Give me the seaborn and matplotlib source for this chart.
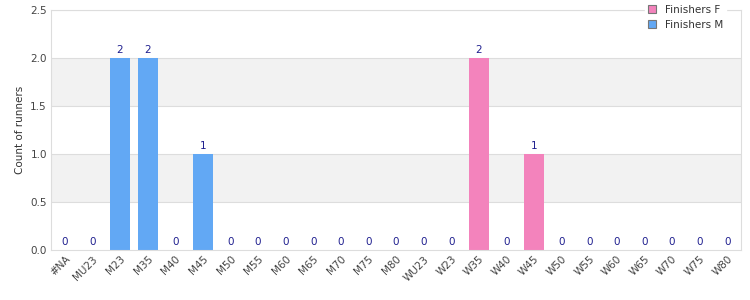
import matplotlib
matplotlib.use("Agg")
import matplotlib.pyplot as plt
import seaborn as sns
import pandas as pd
from matplotlib.patches import Patch

categories = ["#NA", "MU23", "M23", "M35", "M40", "M45", "M50", "M55", "M60", "M65",
              "M70", "M75", "M80", "WU23", "W23", "W35", "W40", "W45", "W50", "W55",
              "W60", "W65", "W70", "W75", "W80"]
counts = [0, 0, 2, 2, 0, 1, 0, 0, 0, 0, 0, 0, 0, 0, 0, 2, 0, 1, 0, 0, 0, 0, 0, 0, 0]
series = ["Finishers M"] * 13 + ["Finishers F"] * 12
yticks = [0.0, 0.5, 1.0, 1.5, 2.0, 2.5]

colors = {"Finishers F": "#f383bc", "Finishers M": "#62a8f4"}

df = pd.DataFrame({"cat": categories, "count": counts, "series": series})

sns.set_style("white")
plt.rcParams["font.family"] = ["DejaVu Sans"]

fig = plt.figure(figsize=(7.5, 3.0), dpi=100)
ax = fig.add_axes([0.068, 0.167, 0.92, 0.80])

# alternating bands
for i, (lo, hi) in enumerate(zip(yticks[:-1], yticks[1:])):
    if i % 2 == 1:
        ax.axhspan(lo, hi, color="#f2f2f2", zorder=0, lw=0)
for y in yticks[1:]:
    ax.axhline(y, color="#dddddd", lw=0.8, zorder=0.5)

sns.barplot(data=df, x="cat", y="count", hue="series", palette=colors,
            dodge=False, width=0.72, order=categories, ax=ax, legend=False,
            saturation=1, zorder=2, linewidth=0, edgecolor="none")

for cont in ax.containers:
    ax.bar_label(cont, labels=[f"{int(v)}" if v == v else "" for v in cont.datavalues],
                 color="#1f1f8f", fontsize=7.5, padding=2)

ax.set_ylim(0, 2.5)
ax.set_yticks(yticks)
ax.set_yticklabels([f"{v:.1f}" for v in yticks], fontsize=7.5, color="#444444")
ax.set_xlim(-0.5, len(categories) - 0.5)
ax.set_xticks(range(len(categories)))
ax.set_xticklabels(categories, rotation=45, ha="right", rotation_mode="anchor",
                   fontsize=7.5, color="#444444")
ax.set_xlabel("")
ax.set_ylabel("Count of runners", fontsize=7.5, color="#333333")
ax.tick_params(axis="both", length=0, pad=3)
for s in ax.spines.values():
    s.set_color("#dddddd")
    s.set_linewidth(0.8)

handles = [Patch(facecolor=colors["Finishers F"], edgecolor="#777777", lw=0.8, label="Finishers F"),
           Patch(facecolor=colors["Finishers M"], edgecolor="#777777", lw=0.8, label="Finishers M")]
leg = fig.legend(handles=handles, loc="upper right", bbox_to_anchor=(0.975, 1.012),
                 frameon=True, fontsize=7.5, handlelength=0.8, handleheight=0.8,
                 handletextpad=0.8, labelspacing=0.5, borderpad=0.3)
leg.get_frame().set_edgecolor("white")
leg.get_frame().set_facecolor("white")
leg.get_frame().set_alpha(1)
leg.set_zorder(10)
for t in leg.get_texts():
    t.set_color("#333333")

fig.savefig("out.png", dpi=100)
